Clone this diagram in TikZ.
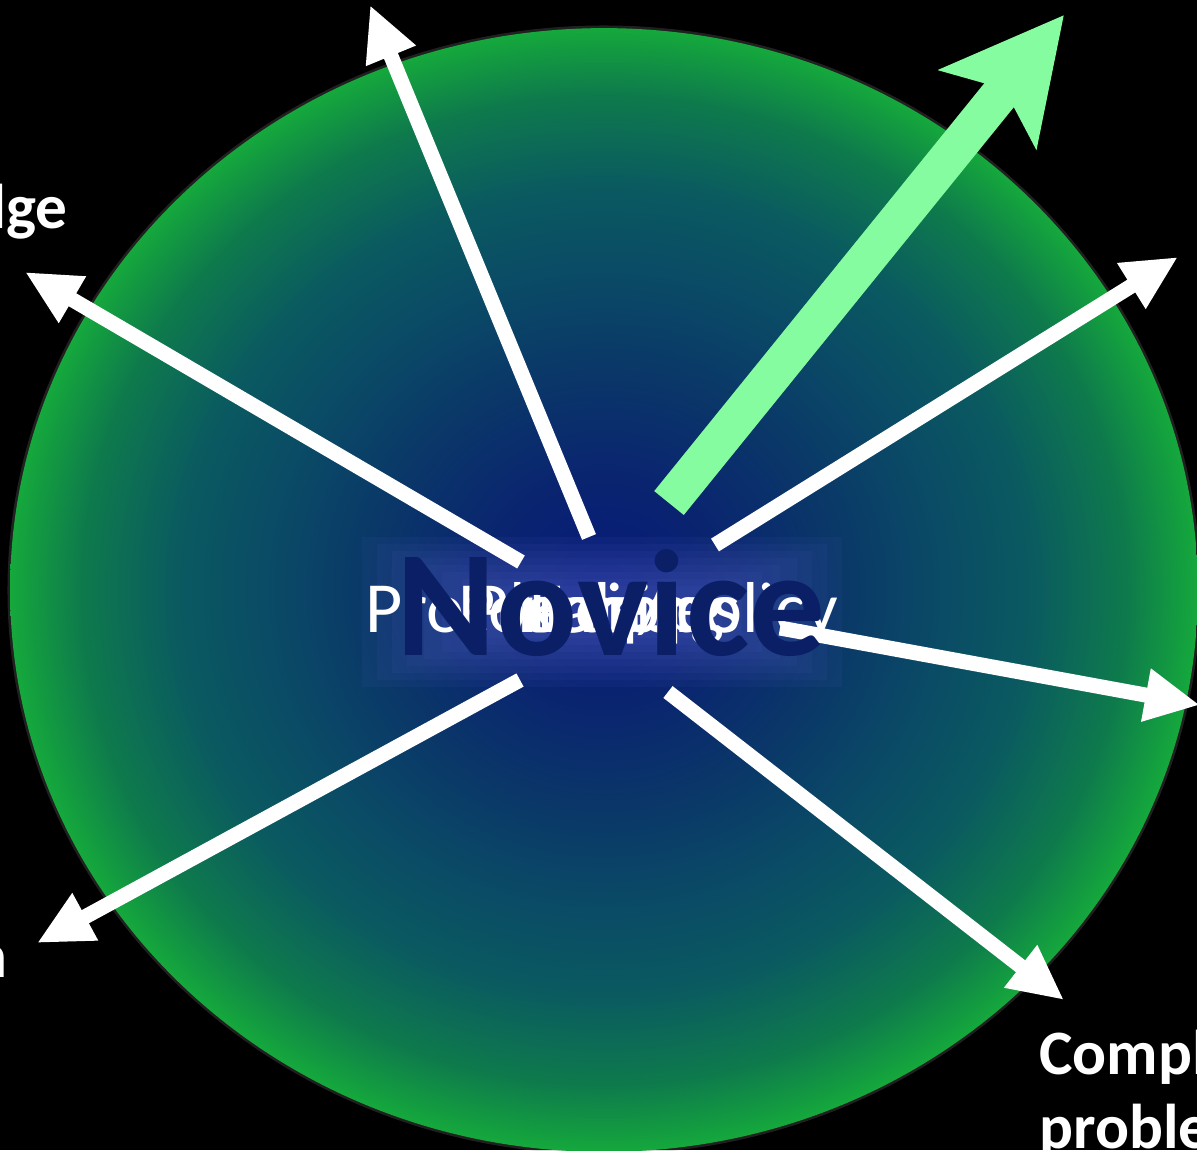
\documentclass[tikz,border=0pt]{standalone}
\usepackage{fontspec}
\setmainfont{Carlito}
\usetikzlibrary{arrows.meta}

\definecolor{cNavy}{HTML}{061A7A}
\definecolor{cNavyB}{HTML}{0A2470}
\definecolor{cDeep}{HTML}{0A3868}
\definecolor{cTeal}{HTML}{0A4A66}
\definecolor{cSea}{HTML}{0A5A60}
\definecolor{cGreen}{HTML}{0E7A4C}
\definecolor{cEdge}{HTML}{15A83C}
\definecolor{cMint}{HTML}{86FCA0}
\definecolor{cInk}{HTML}{0B1F66}
\definecolor{cGlow}{HTML}{5565C8}

\pgfdeclareradialshading{novglow}{\pgfpoint{0bp}{0bp}}{color(0bp)=(cNavy); color(5bp)=(cNavyB); color(10bp)=(cDeep); color(14bp)=(cTeal); color(18bp)=(cSea); color(22bp)=(cGreen); color(25bp)=(cEdge); color(50bp)=(cEdge)}

\begin{document}
\begin{tikzpicture}[x=0.02cm,y=-0.02cm,
    spoke/.style={draw=white,line width=0.3cm,-{Triangle[length=1.1cm,width=1cm]}},
    growth/.style={draw=cMint,line width=0.76cm,-{Stealth[length=2.4cm,width=2.45cm,inset=0.5cm]}},
    dimension/.style={text=white,font=\bfseries\fontsize{36}{42}\selectfont,inner sep=0pt},
    topic/.style={text=white,font=\fontsize{41}{44}\selectfont,inner sep=0pt,anchor=base}]
  \useasboundingbox (0,0) rectangle (1197,1150);
  \fill[black] (0,0) rectangle (1197,1150);
  \clip (0,0) rectangle (1197,1150);

  % the sphere
  \draw[gray,opacity=0.25,line width=3pt] (604,590) ellipse [x radius=11.88cm, y radius=11.24cm];
  \shade[shading=novglow] (604,590) ellipse [x radius=11.88cm, y radius=11.24cm];
  \foreach \w/\h in {240/75, 225/68, 210/61, 195/54, 178/47, 160/40, 140/33, 120/26}
    \fill[cGlow,opacity=0.08] (602-\w,612-\h) rectangle (602+\w,612+\h);

  % spokes
  \coordinate (s1) at (589,537);  \coordinate (e1) at (370,5);
  \coordinate (s2) at (521,562);  \coordinate (e2) at (25,272);
  \coordinate (s3) at (520,680);  \coordinate (e3) at (37,943);
  \coordinate (s4) at (668,692);  \coordinate (e4) at (1064,1000);
  \coordinate (s5) at (780,628);  \coordinate (e5) at (1200,705);
  \coordinate (s6) at (715,545);  \coordinate (e6) at (1178,257);
  \coordinate (g0) at (669,503);  \coordinate (g1) at (1064,15);
  \foreach \i in {1,...,6}
    \draw[spoke] (s\i) -- (e\i);
  \draw[growth] (g0) -- (g1);

  % piled-up words in the middle
  \node[topic] (t1) at (602,632) {Protocols/policy};
  \node[topic] (t2) at (600,632) {Principles};
  \node[topic] (t3) at (598,632) {Planning};
  \node[topic] (t4) at (596,632) {Rules};
  \node[topic] (t5) at (604,632) {Facts};
  \node[text=cInk,font=\bfseries\fontsize{86}{90}\selectfont,inner sep=0pt,anchor=base] (novice) at (611,655) {Novice};

  % outer labels
  \node[dimension,anchor=base east] (know) at (68,228) {Knowledge};
  \node[dimension,anchor=base east] (refl) at (8,977) {Reflection};
  \node[dimension,anchor=north west,align=left] (cplx) at (1039,1030) {Complex\\problems};
\end{tikzpicture}
\end{document}
